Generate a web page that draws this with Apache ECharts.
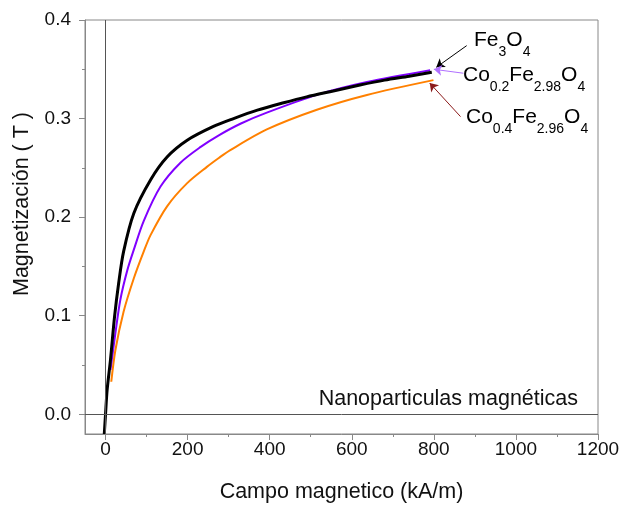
<!DOCTYPE html>
<html>
<head>
    <meta charset="utf-8">
    <title>Magnetización</title>
    <script src="https://cdn.jsdelivr.net/npm/echarts@6/dist/echarts.min.js"></script>
</head>
<body style="margin:0;background:#fff;">
    <div id="main" style="width:621px;height:505px;"></div>
    <script type="text/javascript">
        // curvas: [campo kA/m, magnetizacion T]
        var fe3o4 = [[-3, -0.02], [0, 0], [4, 0.025], [12, 0.055], [22, 0.099], [32, 0.133], [44, 0.165],
            [69, 0.204], [110, 0.238], [150, 0.261], [199, 0.278], [263, 0.292], [312, 0.3],
            [370, 0.3085], [434, 0.316], [490, 0.322], [555, 0.328], [620, 0.334], [680, 0.339],
            [740, 0.343], [795, 0.347]];
        var co02 = [[12, 0.045], [24, 0.082], [36, 0.116], [53, 0.146], [69, 0.167], [93, 0.196],
            [134, 0.231], [182, 0.255], [231, 0.271], [276, 0.283], [330, 0.295], [393, 0.306],
            [515, 0.324], [637, 0.337], [791, 0.349]];
        var co04 = [[14, 0.033], [24, 0.065], [44, 0.104], [69, 0.138], [93, 0.165], [110, 0.182],
            [150, 0.211], [199, 0.2345], [247, 0.251], [276, 0.26], [304, 0.268], [393, 0.289],
            [515, 0.309], [637, 0.324], [799, 0.339]];

        var xTicks = [0, 200, 400, 600, 800, 1000, 1200];
        var xMinor = [100, 300, 500, 700, 900, 1100];
        var yTicks = [0, 0.1, 0.2, 0.3, 0.4];
        var yMinor = [0.05, 0.15, 0.25, 0.35];

        // flechas de las etiquetas [desde, hasta]
        var arrowFe = [[880, 0.374], [806, 0.352]];
        var arrowCo02 = [[872, 0.346], [800, 0.350]];
        var arrowCo04 = [[865, 0.302], [790, 0.336]];

        var myChart = echarts.init(document.getElementById('main'));
        var font = 'Liberation Sans, Arial, sans-serif';

        var mainX = {
            type: 'value', min: -50, max: 1200, position: 'bottom',
            name: 'Campo magnetico (kA/m)', nameLocation: 'middle', nameGap: 47,
            nameTextStyle: { fontSize: 21.5, color: '#111', fontFamily: font },
            axisLine: { show: true, onZero: false, lineStyle: { color: '#888' } },
            axisTick: { show: true, customValues: xTicks, length: 6, lineStyle: { color: '#888' } },
            axisLabel: {
                customValues: xTicks, fontSize: 19, color: '#111', margin: 6, fontFamily: font,
                formatter: function (v) { return String(v); }
            },
            splitLine: { show: false }
        };
        var minorX = {
            type: 'value', min: -50, max: 1200, position: 'bottom',
            axisLine: { show: false, onZero: false },
            axisTick: { show: true, customValues: xMinor, length: 3, lineStyle: { color: '#888' } },
            axisLabel: { show: false }, splitLine: { show: false }
        };
        var mainY = {
            type: 'value', min: -0.02, max: 0.4, position: 'left',
            axisLine: { show: true, onZero: false, lineStyle: { color: '#888' } },
            axisTick: { show: true, customValues: yTicks, length: 6, lineStyle: { color: '#888' } },
            axisLabel: {
                customValues: yTicks, fontSize: 19, color: '#111', margin: 14, fontFamily: font,
                formatter: function (v) { return v.toFixed(1); }
            },
            splitLine: { show: false }
        };
        var minorY = {
            type: 'value', min: -0.02, max: 0.4, position: 'left',
            axisLine: { show: false, onZero: false },
            axisTick: { show: true, customValues: yMinor, length: 3, lineStyle: { color: '#888' } },
            axisLabel: { show: false }, splitLine: { show: false }
        };

        function arrowItem(a, color) {
            return [{ coord: a[0], lineStyle: { color: color } }, { coord: a[1] }];
        }

        function richFor(color) {
            return {
                n: { fontSize: 21, lineHeight: 25, fontFamily: font, verticalAlign: 'top', color: color },
                s: { fontSize: 14, lineHeight: 14, fontFamily: font, verticalAlign: 'top', padding: [15, 0, 0, 0], color: color }
            };
        }

        myChart.setOption({
            backgroundColor: '#fff',
            animation: false,
            grid: {
                left: 85, right: 23, top: 20, bottom: 71, outerBoundsMode: 'none',
                show: true, borderColor: '#888', borderWidth: 1
            },
            xAxis: [mainX, minorX],
            yAxis: [mainY, minorY],
            graphic: [
                {
                    type: 'text', x: 22, y: 204, rotation: Math.PI / 2,
                    style: { text: 'Magnetización ( T )', fontSize: 21.5, fill: '#111', fontFamily: font, align: 'center', verticalAlign: 'middle' }
                },
                { type: 'text', left: 474, top: 30, style: { text: '{n|Fe}{s|3}{n|O}{s|4}', rich: richFor('#000') } },
                { type: 'text', left: 463, top: 65, style: { text: '{n|Co}{s|0.2}{n|Fe}{s|2.98}{n|O}{s|4}', rich: richFor('#8b1a1a') } },
                { type: 'text', left: 466, top: 107, style: { text: '{n|Co}{s|0.4}{n|Fe}{s|2.96}{n|O}{s|4}', rich: richFor('#ff8c1a') } },
                { type: 'text', right: 43, top: 388, style: { text: 'Nanoparticulas magnéticas', fontSize: 21.5, fill: '#111', fontFamily: font } }
            ],
            series: [{
                name: 'Co0.4Fe2.96O4', type: 'line', data: co04, showSymbol: false, smooth: 0.3,
                lineStyle: { color: '#ff8000', width: 2 },
                markLine: {
                    silent: true, symbol: ['none', 'arrow'], symbolSize: 8,
                    label: { show: false },
                    lineStyle: { type: 'solid', width: 1 },
                    data: [
                        arrowItem(arrowFe, '#000'),
                        arrowItem(arrowCo02, '#b070ff'),
                        arrowItem(arrowCo04, '#8b1a1a')
                    ]
                }
            }, {
                name: 'Co0.2Fe2.98O4', type: 'line', data: co02, showSymbol: false, smooth: 0.3,
                lineStyle: { color: '#8000ff', width: 2 }
            }, {
                name: 'Fe3O4', type: 'line', data: fe3o4, showSymbol: false, smooth: 0.3,
                lineStyle: { color: '#000', width: 3 },
                markLine: {
                    silent: true, symbol: 'none', label: { show: false },
                    lineStyle: { color: '#555', width: 1, type: 'solid' },
                    data: [{ xAxis: 0 }, { yAxis: 0 }]
                }
            }]
        });
    </script>
</body>
</html>
